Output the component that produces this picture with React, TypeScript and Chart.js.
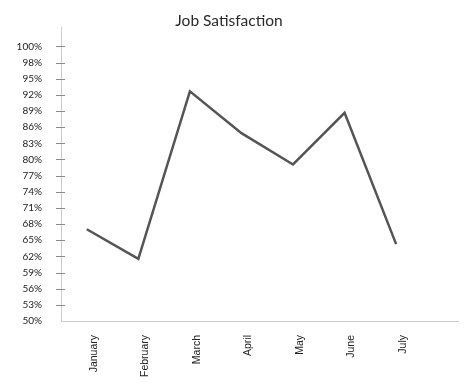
import React, { useEffect, useRef } from "react";
import { Chart, registerables } from "chart.js";

Chart.register(...registerables);

const categories = ["January", "February", "March", "April", "May", "June", "July"];
const satisfaction = [66.7, 61.3, 91.8, 84.2, 78.5, 87.9, 64.0];
const yTickLabels = [
  "50%", "53%", "56%", "59%", "62%", "65%", "68%", "71%", "74%",
  "77%", "80%", "83%", "86%", "89%", "92%", "95%", "98%", "100%",
];
const chartTitle = "Job Satisfaction";

const tickMarks = {
  id: "tickMarks",
  afterDraw(chart: any) {
    const y = chart.scales.y;
    const ctx = chart.ctx;
    const left = chart.chartArea.left;
    ctx.save();
    ctx.strokeStyle = "#8a8a8a";
    ctx.lineWidth = 1;
    y.ticks.forEach((t: any, i: number) => {
      if (i === 0) return;
      const py = Math.round(y.getPixelForValue(t.value)) + 0.5;
      ctx.beginPath();
      ctx.moveTo(left - 5, py);
      ctx.lineTo(left + 4, py);
      ctx.stroke();
    });
    ctx.restore();
  },
};

export default function App() {
  const ref = useRef<HTMLCanvasElement | null>(null);
  useEffect(() => {
    if (!ref.current) return;
    const chart = new Chart(ref.current, {
      type: "line",
      data: {
        datasets: [
          {
            label: chartTitle,
            data: satisfaction.map((v, i) => ({ x: i, y: v })),
            borderColor: "#555558",
            borderWidth: 2.5,
            pointRadius: 0,
            tension: 0,
            fill: false,
          },
        ],
      },
      plugins: [tickMarks],
      options: {
        responsive: false,
        animation: false,
        layout: { padding: { left: 0, right: 18, top: 0, bottom: 0 } },
        plugins: {
          legend: { display: false },
          tooltip: { enabled: false },
          title: {
            display: true,
            text: chartTitle,
            color: "#2a2a2a",
            font: { family: "Lato", size: 15.5, weight: "normal", lineHeight: 0.8 },
            padding: { top: 15, bottom: 0 },
          },
        },
        scales: {
          x: {
            type: "linear",
            min: -0.5,
            max: 7.2,
            afterBuildTicks: (scale: any) => {
              scale.ticks = categories.map((_, i) => ({ value: i }));
            },
            afterFit: (scale: any) => {
              scale.height = 65;
            },
            grid: { display: false, drawTicks: false },
            border: { display: true, color: "#cccccc", width: 1 },
            ticks: {
              autoSkip: false,
              maxRotation: 90,
              minRotation: 90,
              padding: 14,
              labelOffset: 7,
              color: "#222",
              font: { family: "Liberation Sans", size: 10.5 },
              callback: (value: any) => categories[Math.round(Number(value))] ?? "",
            },
          },
          y: {
            type: "linear",
            min: 50,
            max: 103.45,
            afterBuildTicks: (scale: any) => {
              scale.ticks = yTickLabels.map((_, i) => ({ value: 50 + (i * 50) / 17 }));
            },
            afterFit: (scale: any) => {
              scale.width = 61;
            },
            grid: { display: false, drawTicks: false },
            border: { display: true, color: "#cccccc", width: 1 },
            ticks: {
              autoSkip: false,
              padding: 19,
              color: "#222",
              font: { family: "Lato", size: 10 },
              callback: (_v: any, index: number) => yTickLabels[index] ?? "",
            },
          },
        },
      },
    });
    return () => chart.destroy();
  }, []);
  return (
    <div style={{ position: "fixed", left: 0, top: 0, width: 476, height: 386, background: "#fff" }}>
      <canvas ref={ref} width={476} height={386} />
    </div>
  );
}
